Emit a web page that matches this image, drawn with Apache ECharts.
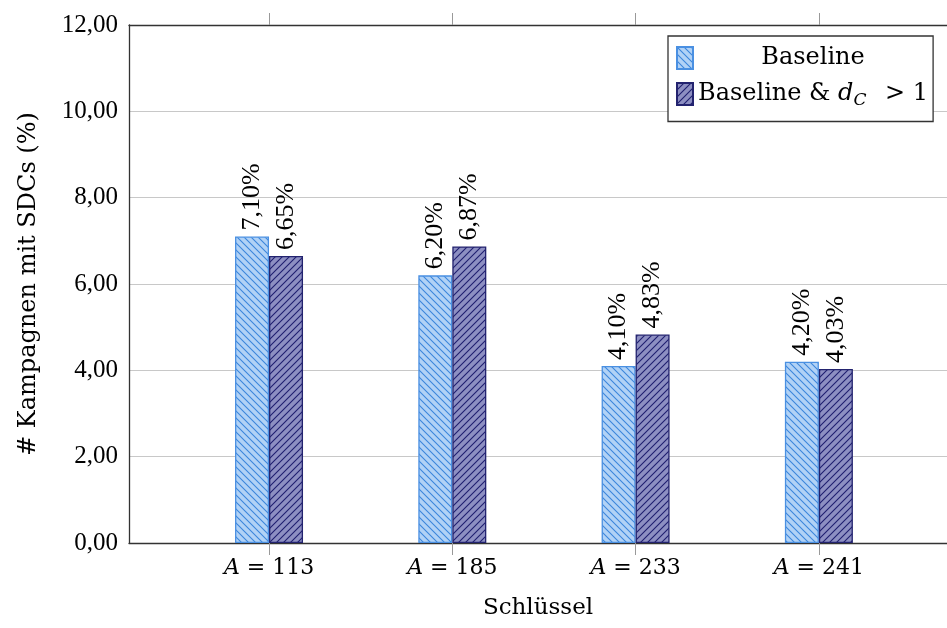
<!DOCTYPE html>
<html><head><meta charset="utf-8">
<script src="https://cdn.jsdelivr.net/npm/echarts@6/dist/echarts.min.js"></script>
<style>html,body{margin:0;padding:0;background:#fff}#c{width:947px;height:628px}</style>
</head><body><div id="c"></div>
<script>
const categories = ['113', '185', '233', '241'];
const baseline = [7.10, 6.20, 4.10, 4.20];
const baselineDc = [6.65, 6.87, 4.83, 4.03];
const yTicks = [0, 2, 4, 6, 8, 10, 12];
const seriesNames = ['Baseline', 'Baseline & d_C > 1'];

function hatch(fill, line, dir) {
  const s = 7;
  const c = document.createElement('canvas');
  c.width = s; c.height = s;
  const g = c.getContext('2d');
  g.fillStyle = fill; g.fillRect(0, 0, s, s);
  g.strokeStyle = line; g.lineWidth = 1.1;
  g.beginPath();
  if (dir === 'nw') {
    g.moveTo(0, 0); g.lineTo(s, s);
    g.moveTo(-1, s - 1); g.lineTo(1, s + 1);
    g.moveTo(s - 1, -1); g.lineTo(s + 1, 1);
  } else {
    g.moveTo(0, s); g.lineTo(s, 0);
    g.moveTo(-1, 1); g.lineTo(1, -1);
    g.moveTo(s - 1, s + 1); g.lineTo(s + 1, s - 1);
  }
  g.stroke();
  return { image: c, repeat: 'repeat' };
}

const NUM = 'Liberation Serif';
const TXT = 'DejaVu Serif';
const idx = categories.map((_, i) => i);
const X_MIN = -0.764, X_MAX = 3.699;
const fmtPct = v => v.toFixed(2).replace('.', ',') + '%';

const chart = echarts.init(document.getElementById('c'), null, { renderer: 'canvas' });
const labelCfg = {
  show: true, position: 'top', rotate: 90, align: 'left', verticalAlign: 'middle',
  distance: 6, fontFamily: NUM, fontSize: 26, color: '#000',
  formatter: p => fmtPct(p.value[1])
};
chart.setOption({
  animation: false,
  grid: { left: 129, top: 25, right: 0, bottom: 85, containLabel: false },
  xAxis: [{
    type: 'value', min: X_MIN, max: X_MAX, position: 'bottom',
    axisLine: { show: true, onZero: false, lineStyle: { color: '#333', width: 1.3 } },
    axisTick: { show: true, customValues: idx, length: 12, inside: false, lineStyle: { color: '#999' } },
    axisLabel: { show: true, customValues: idx, margin: 14, fontFamily: TXT, fontSize: 22, color: '#000',
      formatter: v => '{i|A} = ' + categories[Math.round(v)],
      rich: { i: { fontFamily: TXT, fontSize: 22, fontStyle: 'italic', color: '#000' } } },
    splitLine: { show: false },
    name: 'Schlüssel', nameLocation: 'middle', nameGap: 54,
    nameTextStyle: { fontFamily: TXT, fontSize: 23, color: '#000' }
  }, {
    type: 'value', min: X_MIN, max: X_MAX, position: 'top',
    axisLine: { show: true, onZero: false, lineStyle: { color: '#333', width: 1.3 } },
    axisTick: { show: true, customValues: idx, length: 12, inside: false, lineStyle: { color: '#999' } },
    axisLabel: { show: false }, splitLine: { show: false }
  }],
  yAxis: {
    type: 'value', min: 0, max: 12, interval: 2,
    axisLine: { show: true, onZero: false, lineStyle: { color: '#333', width: 1.3 } },
    axisTick: { show: false },
    axisLabel: { margin: 11, fontFamily: NUM, fontSize: 25, color: '#000',
      formatter: v => v.toFixed(2).replace('.', ',') },
    splitLine: { show: true, lineStyle: { color: '#c8c8c8', width: 1 } },
    name: '# Kampagnen mit SDCs (%)', nameLocation: 'middle', nameGap: 88,
    nameTextStyle: { fontFamily: TXT, fontSize: 24, color: '#000' }
  },
  legend: {
    orient: 'vertical', left: 668, top: 36, padding: [10, 5, 12, 8],
    backgroundColor: '#fff', borderColor: '#333', borderWidth: 1.3, borderRadius: 0,
    itemWidth: 16, itemHeight: 22, itemGap: 12, icon: 'rect',
    data: seriesNames,
    formatter: n => n === seriesNames[0] ? '{c|Baseline}' : '{n|Baseline & }{i|d}{s|C}{n| > 1}',
    textStyle: { fontFamily: TXT, fontSize: 24, color: '#000',
      rich: {
        c: { fontFamily: TXT, fontSize: 24, width: 230, align: 'center', color: '#000' },
        n: { fontFamily: TXT, fontSize: 24, color: '#000' },
        i: { fontFamily: TXT, fontSize: 24, fontStyle: 'italic', color: '#000' },
        s: { fontFamily: TXT, fontSize: 17, fontStyle: 'italic', color: '#000', padding: [14, 11, 0, 0] }
      } }
  },
  series: [{
    name: seriesNames[0], type: 'bar', xAxisIndex: 0,
    data: baseline.map((v, i) => [idx[i], v]),
    barWidth: 34, barGap: '0%',
    itemStyle: { color: hatch('#b1d2f6', '#3c86dc', 'nw'), borderColor: '#4a90e2', borderWidth: 1.3 },
    label: labelCfg
  }, {
    name: seriesNames[1], type: 'bar', xAxisIndex: 0,
    data: baselineDc.map((v, i) => [idx[i], v]),
    barWidth: 34, barGap: '0%',
    itemStyle: { color: hatch('#8d8fc2', '#1f1f70', 'ne'), borderColor: '#23236f', borderWidth: 1.3 },
    label: labelCfg
  }]
});
</script></body></html>
